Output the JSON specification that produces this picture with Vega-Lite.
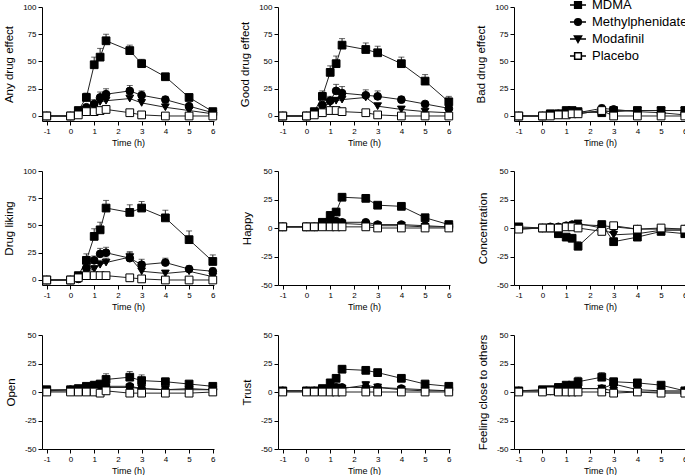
{
"$schema":"https://vega.github.io/schema/vega-lite/v6.json",
"padding":{"left":3,"top":-4,"right":0,"bottom":0},
"bounds":"flush",
"columns":3,
"spacing":{"row":50,"column":64},
"resolve":{"scale":{"shape":"independent","fill":"independent"}},
"datasets":{"d":[
{"p":"any","d":"MDMA","t":-1,"v":0},{"p":"any","d":"MDMA","t":0,"v":0},{"p":"any","d":"MDMA","t":0.33,"v":5},{"p":"any","d":"MDMA","t":0.67,"v":17,"h":21},{"p":"any","d":"MDMA","t":1,"v":47,"h":54},{"p":"any","d":"MDMA","t":1.25,"v":54,"h":62},{"p":"any","d":"MDMA","t":1.5,"v":69,"h":75},{"p":"any","d":"MDMA","t":2.5,"v":60,"h":65},{"p":"any","d":"MDMA","t":3,"v":48,"h":52},{"p":"any","d":"MDMA","t":4,"v":36,"h":39},{"p":"any","d":"MDMA","t":5,"v":17,"h":19},{"p":"any","d":"MDMA","t":6,"v":4,"h":5},
{"p":"any","d":"Methylphenidate","t":-1,"v":0},{"p":"any","d":"Methylphenidate","t":0,"v":0},{"p":"any","d":"Methylphenidate","t":0.33,"v":3},{"p":"any","d":"Methylphenidate","t":0.67,"v":8,"h":10},{"p":"any","d":"Methylphenidate","t":1,"v":11,"h":15},{"p":"any","d":"Methylphenidate","t":1.25,"v":17,"h":22},{"p":"any","d":"Methylphenidate","t":1.5,"v":20,"h":25},{"p":"any","d":"Methylphenidate","t":2.5,"v":23,"h":28},{"p":"any","d":"Methylphenidate","t":3,"v":19,"h":23},{"p":"any","d":"Methylphenidate","t":4,"v":15,"h":18},{"p":"any","d":"Methylphenidate","t":5,"v":9,"h":11},{"p":"any","d":"Methylphenidate","t":6,"v":3},
{"p":"any","d":"Modafinil","t":-1,"v":0},{"p":"any","d":"Modafinil","t":0,"v":0},{"p":"any","d":"Modafinil","t":0.33,"v":2},{"p":"any","d":"Modafinil","t":0.67,"v":6},{"p":"any","d":"Modafinil","t":1,"v":10,"h":13},{"p":"any","d":"Modafinil","t":1.25,"v":13,"h":17},{"p":"any","d":"Modafinil","t":1.5,"v":14,"h":18},{"p":"any","d":"Modafinil","t":2.5,"v":16,"h":20},{"p":"any","d":"Modafinil","t":3,"v":12,"h":15},{"p":"any","d":"Modafinil","t":4,"v":8,"h":10},{"p":"any","d":"Modafinil","t":5,"v":5},{"p":"any","d":"Modafinil","t":6,"v":2},
{"p":"any","d":"Placebo","t":-1,"v":0},{"p":"any","d":"Placebo","t":0,"v":0},{"p":"any","d":"Placebo","t":0.33,"v":1},{"p":"any","d":"Placebo","t":0.67,"v":4},{"p":"any","d":"Placebo","t":1,"v":4},{"p":"any","d":"Placebo","t":1.25,"v":5},{"p":"any","d":"Placebo","t":1.5,"v":6},{"p":"any","d":"Placebo","t":2.5,"v":3},{"p":"any","d":"Placebo","t":3,"v":1},{"p":"any","d":"Placebo","t":4,"v":0},{"p":"any","d":"Placebo","t":5,"v":0},{"p":"any","d":"Placebo","t":6,"v":0},

{"p":"good","d":"MDMA","t":-1,"v":0},{"p":"good","d":"MDMA","t":0,"v":0},{"p":"good","d":"MDMA","t":0.33,"v":4},{"p":"good","d":"MDMA","t":0.67,"v":18,"h":23},{"p":"good","d":"MDMA","t":1,"v":40,"h":46},{"p":"good","d":"MDMA","t":1.25,"v":48,"h":55},{"p":"good","d":"MDMA","t":1.5,"v":65,"h":71},{"p":"good","d":"MDMA","t":2.5,"v":61,"h":67},{"p":"good","d":"MDMA","t":3,"v":58,"h":64},{"p":"good","d":"MDMA","t":4,"v":48,"h":54},{"p":"good","d":"MDMA","t":5,"v":32,"h":38},{"p":"good","d":"MDMA","t":6,"v":13,"h":18},
{"p":"good","d":"Methylphenidate","t":-1,"v":0},{"p":"good","d":"Methylphenidate","t":0,"v":0},{"p":"good","d":"Methylphenidate","t":0.33,"v":3},{"p":"good","d":"Methylphenidate","t":0.67,"v":10,"h":13},{"p":"good","d":"Methylphenidate","t":1,"v":14,"h":18},{"p":"good","d":"Methylphenidate","t":1.25,"v":23,"h":29},{"p":"good","d":"Methylphenidate","t":1.5,"v":21,"h":27},{"p":"good","d":"Methylphenidate","t":2.5,"v":19,"h":24},{"p":"good","d":"Methylphenidate","t":3,"v":18,"h":23},{"p":"good","d":"Methylphenidate","t":4,"v":15,"h":18},{"p":"good","d":"Methylphenidate","t":5,"v":11,"h":13},{"p":"good","d":"Methylphenidate","t":6,"v":7,"h":9},
{"p":"good","d":"Modafinil","t":-1,"v":0},{"p":"good","d":"Modafinil","t":0,"v":0},{"p":"good","d":"Modafinil","t":0.33,"v":2},{"p":"good","d":"Modafinil","t":0.67,"v":8},{"p":"good","d":"Modafinil","t":1,"v":12,"h":15},{"p":"good","d":"Modafinil","t":1.25,"v":14,"h":17},{"p":"good","d":"Modafinil","t":1.5,"v":15,"h":18},{"p":"good","d":"Modafinil","t":2.5,"v":17,"h":21},{"p":"good","d":"Modafinil","t":3,"v":9,"h":11},{"p":"good","d":"Modafinil","t":4,"v":6},{"p":"good","d":"Modafinil","t":5,"v":4},{"p":"good","d":"Modafinil","t":6,"v":3},
{"p":"good","d":"Placebo","t":-1,"v":0},{"p":"good","d":"Placebo","t":0,"v":0},{"p":"good","d":"Placebo","t":0.33,"v":1},{"p":"good","d":"Placebo","t":0.67,"v":3},{"p":"good","d":"Placebo","t":1,"v":5},{"p":"good","d":"Placebo","t":1.25,"v":5},{"p":"good","d":"Placebo","t":1.5,"v":4},{"p":"good","d":"Placebo","t":2.5,"v":3},{"p":"good","d":"Placebo","t":3,"v":1},{"p":"good","d":"Placebo","t":4,"v":0},{"p":"good","d":"Placebo","t":5,"v":0},{"p":"good","d":"Placebo","t":6,"v":0},

{"p":"bad","d":"MDMA","t":-1,"v":0},{"p":"bad","d":"MDMA","t":0,"v":0},{"p":"bad","d":"MDMA","t":0.33,"v":2},{"p":"bad","d":"MDMA","t":0.67,"v":2},{"p":"bad","d":"MDMA","t":1,"v":5,"h":7},{"p":"bad","d":"MDMA","t":1.25,"v":5,"h":7},{"p":"bad","d":"MDMA","t":1.5,"v":4},{"p":"bad","d":"MDMA","t":2.5,"v":3},{"p":"bad","d":"MDMA","t":3,"v":5,"h":7},{"p":"bad","d":"MDMA","t":4,"v":5},{"p":"bad","d":"MDMA","t":5,"v":5},{"p":"bad","d":"MDMA","t":6,"v":5},
{"p":"bad","d":"Methylphenidate","t":-1,"v":0},{"p":"bad","d":"Methylphenidate","t":0,"v":0},{"p":"bad","d":"Methylphenidate","t":0.33,"v":1},{"p":"bad","d":"Methylphenidate","t":0.67,"v":2},{"p":"bad","d":"Methylphenidate","t":1,"v":4},{"p":"bad","d":"Methylphenidate","t":1.25,"v":4},{"p":"bad","d":"Methylphenidate","t":1.5,"v":3},{"p":"bad","d":"Methylphenidate","t":2.5,"v":7,"h":10},{"p":"bad","d":"Methylphenidate","t":3,"v":6},{"p":"bad","d":"Methylphenidate","t":4,"v":4},{"p":"bad","d":"Methylphenidate","t":5,"v":3},{"p":"bad","d":"Methylphenidate","t":6,"v":1},
{"p":"bad","d":"Modafinil","t":-1,"v":0},{"p":"bad","d":"Modafinil","t":0,"v":0},{"p":"bad","d":"Modafinil","t":0.33,"v":2},{"p":"bad","d":"Modafinil","t":0.67,"v":2},{"p":"bad","d":"Modafinil","t":1,"v":3},{"p":"bad","d":"Modafinil","t":1.25,"v":3},{"p":"bad","d":"Modafinil","t":1.5,"v":2},{"p":"bad","d":"Modafinil","t":2.5,"v":5},{"p":"bad","d":"Modafinil","t":3,"v":4},{"p":"bad","d":"Modafinil","t":4,"v":5},{"p":"bad","d":"Modafinil","t":5,"v":5},{"p":"bad","d":"Modafinil","t":6,"v":5},
{"p":"bad","d":"Placebo","t":-1,"v":0},{"p":"bad","d":"Placebo","t":0,"v":0},{"p":"bad","d":"Placebo","t":0.33,"v":0},{"p":"bad","d":"Placebo","t":0.67,"v":1},{"p":"bad","d":"Placebo","t":1,"v":1},{"p":"bad","d":"Placebo","t":1.25,"v":2},{"p":"bad","d":"Placebo","t":1.5,"v":2},{"p":"bad","d":"Placebo","t":2.5,"v":5},{"p":"bad","d":"Placebo","t":3,"v":0},{"p":"bad","d":"Placebo","t":4,"v":0},{"p":"bad","d":"Placebo","t":5,"v":0},{"p":"bad","d":"Placebo","t":6,"v":0},

{"p":"lik","d":"MDMA","t":-1,"v":0},{"p":"lik","d":"MDMA","t":0,"v":0},{"p":"lik","d":"MDMA","t":0.33,"v":4},{"p":"lik","d":"MDMA","t":0.67,"v":18,"h":24},{"p":"lik","d":"MDMA","t":1,"v":40,"h":47},{"p":"lik","d":"MDMA","t":1.25,"v":46,"h":53},{"p":"lik","d":"MDMA","t":1.5,"v":66,"h":73},{"p":"lik","d":"MDMA","t":2.5,"v":62,"h":69},{"p":"lik","d":"MDMA","t":3,"v":66,"h":72},{"p":"lik","d":"MDMA","t":4,"v":57,"h":64},{"p":"lik","d":"MDMA","t":5,"v":37,"h":45},{"p":"lik","d":"MDMA","t":6,"v":17,"h":23},
{"p":"lik","d":"Methylphenidate","t":-1,"v":0},{"p":"lik","d":"Methylphenidate","t":0,"v":0},{"p":"lik","d":"Methylphenidate","t":0.33,"v":1},{"p":"lik","d":"Methylphenidate","t":0.67,"v":11,"h":15},{"p":"lik","d":"Methylphenidate","t":1,"v":18,"h":22},{"p":"lik","d":"Methylphenidate","t":1.25,"v":24,"h":29},{"p":"lik","d":"Methylphenidate","t":1.5,"v":25,"h":30},{"p":"lik","d":"Methylphenidate","t":2.5,"v":20,"h":26},{"p":"lik","d":"Methylphenidate","t":3,"v":14,"h":19},{"p":"lik","d":"Methylphenidate","t":4,"v":16,"h":20},{"p":"lik","d":"Methylphenidate","t":5,"v":10,"h":13},{"p":"lik","d":"Methylphenidate","t":6,"v":8,"h":11},
{"p":"lik","d":"Modafinil","t":-1,"v":0},{"p":"lik","d":"Modafinil","t":0,"v":0},{"p":"lik","d":"Modafinil","t":0.33,"v":1},{"p":"lik","d":"Modafinil","t":0.67,"v":8},{"p":"lik","d":"Modafinil","t":1,"v":10,"h":13},{"p":"lik","d":"Modafinil","t":1.25,"v":14,"h":18},{"p":"lik","d":"Modafinil","t":1.5,"v":16,"h":20},{"p":"lik","d":"Modafinil","t":2.5,"v":21,"h":25},{"p":"lik","d":"Modafinil","t":3,"v":8,"h":11},{"p":"lik","d":"Modafinil","t":4,"v":6,"h":8},{"p":"lik","d":"Modafinil","t":5,"v":8,"h":10},{"p":"lik","d":"Modafinil","t":6,"v":3},
{"p":"lik","d":"Placebo","t":-1,"v":0},{"p":"lik","d":"Placebo","t":0,"v":0},{"p":"lik","d":"Placebo","t":0.33,"v":2},{"p":"lik","d":"Placebo","t":0.67,"v":4},{"p":"lik","d":"Placebo","t":1,"v":4},{"p":"lik","d":"Placebo","t":1.25,"v":4},{"p":"lik","d":"Placebo","t":1.5,"v":4},{"p":"lik","d":"Placebo","t":2.5,"v":2},{"p":"lik","d":"Placebo","t":3,"v":1},{"p":"lik","d":"Placebo","t":4,"v":0},{"p":"lik","d":"Placebo","t":5,"v":0},{"p":"lik","d":"Placebo","t":6,"v":0},

{"p":"hap","d":"MDMA","t":-1,"v":1},{"p":"hap","d":"MDMA","t":0,"v":1},{"p":"hap","d":"MDMA","t":0.33,"v":1},{"p":"hap","d":"MDMA","t":0.67,"v":5,"h":7},{"p":"hap","d":"MDMA","t":1,"v":11,"h":14},{"p":"hap","d":"MDMA","t":1.25,"v":14,"h":17},{"p":"hap","d":"MDMA","t":1.5,"v":27,"h":30},{"p":"hap","d":"MDMA","t":2.5,"v":26,"h":29},{"p":"hap","d":"MDMA","t":3,"v":20,"h":22},{"p":"hap","d":"MDMA","t":4,"v":19,"h":21},{"p":"hap","d":"MDMA","t":5,"v":9,"h":11},{"p":"hap","d":"MDMA","t":6,"v":3,"h":5},
{"p":"hap","d":"Methylphenidate","t":-1,"v":1},{"p":"hap","d":"Methylphenidate","t":0,"v":1},{"p":"hap","d":"Methylphenidate","t":0.33,"v":1},{"p":"hap","d":"Methylphenidate","t":0.67,"v":2},{"p":"hap","d":"Methylphenidate","t":1,"v":7},{"p":"hap","d":"Methylphenidate","t":1.25,"v":6},{"p":"hap","d":"Methylphenidate","t":1.5,"v":5},{"p":"hap","d":"Methylphenidate","t":2.5,"v":5},{"p":"hap","d":"Methylphenidate","t":3,"v":3},{"p":"hap","d":"Methylphenidate","t":4,"v":3},{"p":"hap","d":"Methylphenidate","t":5,"v":2},{"p":"hap","d":"Methylphenidate","t":6,"v":1},
{"p":"hap","d":"Modafinil","t":-1,"v":1},{"p":"hap","d":"Modafinil","t":0,"v":1},{"p":"hap","d":"Modafinil","t":0.33,"v":1},{"p":"hap","d":"Modafinil","t":0.67,"v":2},{"p":"hap","d":"Modafinil","t":1,"v":5},{"p":"hap","d":"Modafinil","t":1.25,"v":5},{"p":"hap","d":"Modafinil","t":1.5,"v":4},{"p":"hap","d":"Modafinil","t":2.5,"v":3},{"p":"hap","d":"Modafinil","t":3,"v":2},{"p":"hap","d":"Modafinil","t":4,"v":2},{"p":"hap","d":"Modafinil","t":5,"v":1},{"p":"hap","d":"Modafinil","t":6,"v":1},
{"p":"hap","d":"Placebo","t":-1,"v":1},{"p":"hap","d":"Placebo","t":0,"v":1},{"p":"hap","d":"Placebo","t":0.33,"v":1},{"p":"hap","d":"Placebo","t":0.67,"v":1},{"p":"hap","d":"Placebo","t":1,"v":1},{"p":"hap","d":"Placebo","t":1.25,"v":1},{"p":"hap","d":"Placebo","t":1.5,"v":1},{"p":"hap","d":"Placebo","t":2.5,"v":1},{"p":"hap","d":"Placebo","t":3,"v":0},{"p":"hap","d":"Placebo","t":4,"v":0},{"p":"hap","d":"Placebo","t":5,"v":0},{"p":"hap","d":"Placebo","t":6,"v":0},

{"p":"con","d":"MDMA","t":-1,"v":1},{"p":"con","d":"MDMA","t":0,"v":0},{"p":"con","d":"MDMA","t":0.33,"v":0},{"p":"con","d":"MDMA","t":0.67,"v":-5,"h":-3},{"p":"con","d":"MDMA","t":1,"v":-8,"h":-6},{"p":"con","d":"MDMA","t":1.25,"v":-9,"h":-7},{"p":"con","d":"MDMA","t":1.5,"v":-16,"h":-12},{"p":"con","d":"MDMA","t":2.5,"v":3,"h":5},{"p":"con","d":"MDMA","t":3,"v":-12,"h":-9},{"p":"con","d":"MDMA","t":4,"v":-8,"h":-6},{"p":"con","d":"MDMA","t":5,"v":-3,"h":-1},{"p":"con","d":"MDMA","t":6,"v":-5,"h":-3},
{"p":"con","d":"Methylphenidate","t":-1,"v":0},{"p":"con","d":"Methylphenidate","t":0,"v":0},{"p":"con","d":"Methylphenidate","t":0.33,"v":1},{"p":"con","d":"Methylphenidate","t":0.67,"v":1},{"p":"con","d":"Methylphenidate","t":1,"v":2},{"p":"con","d":"Methylphenidate","t":1.25,"v":3},{"p":"con","d":"Methylphenidate","t":1.5,"v":3,"h":6},{"p":"con","d":"Methylphenidate","t":2.5,"v":2},{"p":"con","d":"Methylphenidate","t":3,"v":1},{"p":"con","d":"Methylphenidate","t":4,"v":-1},{"p":"con","d":"Methylphenidate","t":5,"v":-1},{"p":"con","d":"Methylphenidate","t":6,"v":-1},
{"p":"con","d":"Modafinil","t":-1,"v":-1},{"p":"con","d":"Modafinil","t":0,"v":0},{"p":"con","d":"Modafinil","t":0.33,"v":0},{"p":"con","d":"Modafinil","t":0.67,"v":0},{"p":"con","d":"Modafinil","t":1,"v":1},{"p":"con","d":"Modafinil","t":1.25,"v":2},{"p":"con","d":"Modafinil","t":1.5,"v":4},{"p":"con","d":"Modafinil","t":2.5,"v":0},{"p":"con","d":"Modafinil","t":3,"v":-6,"h":-3},{"p":"con","d":"Modafinil","t":4,"v":-5},{"p":"con","d":"Modafinil","t":5,"v":-2},{"p":"con","d":"Modafinil","t":6,"v":-2},
{"p":"con","d":"Placebo","t":-1,"v":-1},{"p":"con","d":"Placebo","t":0,"v":0},{"p":"con","d":"Placebo","t":0.33,"v":0},{"p":"con","d":"Placebo","t":0.67,"v":0},{"p":"con","d":"Placebo","t":1,"v":1},{"p":"con","d":"Placebo","t":1.25,"v":1},{"p":"con","d":"Placebo","t":1.5,"v":0},{"p":"con","d":"Placebo","t":2.5,"v":-3},{"p":"con","d":"Placebo","t":3,"v":2},{"p":"con","d":"Placebo","t":4,"v":-1},{"p":"con","d":"Placebo","t":5,"v":0},{"p":"con","d":"Placebo","t":6,"v":-1},

{"p":"ope","d":"MDMA","t":-1,"v":2},{"p":"ope","d":"MDMA","t":0,"v":2},{"p":"ope","d":"MDMA","t":0.33,"v":3},{"p":"ope","d":"MDMA","t":0.67,"v":5},{"p":"ope","d":"MDMA","t":1,"v":6,"h":9},{"p":"ope","d":"MDMA","t":1.25,"v":7,"h":9},{"p":"ope","d":"MDMA","t":1.5,"v":11,"h":16},{"p":"ope","d":"MDMA","t":2.5,"v":13,"h":18},{"p":"ope","d":"MDMA","t":3,"v":10,"h":15},{"p":"ope","d":"MDMA","t":4,"v":9,"h":12},{"p":"ope","d":"MDMA","t":5,"v":7,"h":9},{"p":"ope","d":"MDMA","t":6,"v":5},
{"p":"ope","d":"Methylphenidate","t":-1,"v":1},{"p":"ope","d":"Methylphenidate","t":0,"v":2},{"p":"ope","d":"Methylphenidate","t":0.33,"v":2},{"p":"ope","d":"Methylphenidate","t":0.67,"v":3},{"p":"ope","d":"Methylphenidate","t":1,"v":5},{"p":"ope","d":"Methylphenidate","t":1.25,"v":6},{"p":"ope","d":"Methylphenidate","t":1.5,"v":5},{"p":"ope","d":"Methylphenidate","t":2.5,"v":5},{"p":"ope","d":"Methylphenidate","t":3,"v":3},{"p":"ope","d":"Methylphenidate","t":4,"v":2},{"p":"ope","d":"Methylphenidate","t":5,"v":3},{"p":"ope","d":"Methylphenidate","t":6,"v":2},
{"p":"ope","d":"Modafinil","t":-1,"v":1},{"p":"ope","d":"Modafinil","t":0,"v":1},{"p":"ope","d":"Modafinil","t":0.33,"v":2},{"p":"ope","d":"Modafinil","t":0.67,"v":3},{"p":"ope","d":"Modafinil","t":1,"v":4},{"p":"ope","d":"Modafinil","t":1.25,"v":5},{"p":"ope","d":"Modafinil","t":1.5,"v":4},{"p":"ope","d":"Modafinil","t":2.5,"v":4},{"p":"ope","d":"Modafinil","t":3,"v":3},{"p":"ope","d":"Modafinil","t":4,"v":2},{"p":"ope","d":"Modafinil","t":5,"v":2},{"p":"ope","d":"Modafinil","t":6,"v":2},
{"p":"ope","d":"Placebo","t":-1,"v":0},{"p":"ope","d":"Placebo","t":0,"v":0},{"p":"ope","d":"Placebo","t":0.33,"v":0},{"p":"ope","d":"Placebo","t":0.67,"v":0},{"p":"ope","d":"Placebo","t":1,"v":0},{"p":"ope","d":"Placebo","t":1.25,"v":-1},{"p":"ope","d":"Placebo","t":1.5,"v":1},{"p":"ope","d":"Placebo","t":2.5,"v":-1},{"p":"ope","d":"Placebo","t":3,"v":-1},{"p":"ope","d":"Placebo","t":4,"v":-1},{"p":"ope","d":"Placebo","t":5,"v":-1},{"p":"ope","d":"Placebo","t":6,"v":0},

{"p":"tru","d":"MDMA","t":-1,"v":1},{"p":"tru","d":"MDMA","t":0,"v":1},{"p":"tru","d":"MDMA","t":0.33,"v":1},{"p":"tru","d":"MDMA","t":0.67,"v":3},{"p":"tru","d":"MDMA","t":1,"v":8,"h":10},{"p":"tru","d":"MDMA","t":1.25,"v":12,"h":14},{"p":"tru","d":"MDMA","t":1.5,"v":20,"h":23},{"p":"tru","d":"MDMA","t":2.5,"v":19,"h":22},{"p":"tru","d":"MDMA","t":3,"v":17,"h":19},{"p":"tru","d":"MDMA","t":4,"v":12,"h":14},{"p":"tru","d":"MDMA","t":5,"v":7,"h":9},{"p":"tru","d":"MDMA","t":6,"v":5},
{"p":"tru","d":"Methylphenidate","t":-1,"v":1},{"p":"tru","d":"Methylphenidate","t":0,"v":1},{"p":"tru","d":"Methylphenidate","t":0.33,"v":1},{"p":"tru","d":"Methylphenidate","t":0.67,"v":2},{"p":"tru","d":"Methylphenidate","t":1,"v":4},{"p":"tru","d":"Methylphenidate","t":1.25,"v":4},{"p":"tru","d":"Methylphenidate","t":1.5,"v":4},{"p":"tru","d":"Methylphenidate","t":2.5,"v":4},{"p":"tru","d":"Methylphenidate","t":3,"v":4},{"p":"tru","d":"Methylphenidate","t":4,"v":3},{"p":"tru","d":"Methylphenidate","t":5,"v":2},{"p":"tru","d":"Methylphenidate","t":6,"v":1},
{"p":"tru","d":"Modafinil","t":-1,"v":1},{"p":"tru","d":"Modafinil","t":0,"v":1},{"p":"tru","d":"Modafinil","t":0.33,"v":1},{"p":"tru","d":"Modafinil","t":0.67,"v":2},{"p":"tru","d":"Modafinil","t":1,"v":3},{"p":"tru","d":"Modafinil","t":1.25,"v":4},{"p":"tru","d":"Modafinil","t":1.5,"v":3},{"p":"tru","d":"Modafinil","t":2.5,"v":6,"h":9},{"p":"tru","d":"Modafinil","t":3,"v":4},{"p":"tru","d":"Modafinil","t":4,"v":2},{"p":"tru","d":"Modafinil","t":5,"v":1},{"p":"tru","d":"Modafinil","t":6,"v":1},
{"p":"tru","d":"Placebo","t":-1,"v":0},{"p":"tru","d":"Placebo","t":0,"v":0},{"p":"tru","d":"Placebo","t":0.33,"v":0},{"p":"tru","d":"Placebo","t":0.67,"v":0},{"p":"tru","d":"Placebo","t":1,"v":0},{"p":"tru","d":"Placebo","t":1.25,"v":0},{"p":"tru","d":"Placebo","t":1.5,"v":0},{"p":"tru","d":"Placebo","t":2.5,"v":0},{"p":"tru","d":"Placebo","t":3,"v":0},{"p":"tru","d":"Placebo","t":4,"v":0},{"p":"tru","d":"Placebo","t":5,"v":0},{"p":"tru","d":"Placebo","t":6,"v":0},

{"p":"clo","d":"MDMA","t":-1,"v":1},{"p":"clo","d":"MDMA","t":0,"v":2},{"p":"clo","d":"MDMA","t":0.33,"v":2},{"p":"clo","d":"MDMA","t":0.67,"v":4},{"p":"clo","d":"MDMA","t":1,"v":6,"h":8},{"p":"clo","d":"MDMA","t":1.25,"v":6,"h":8},{"p":"clo","d":"MDMA","t":1.5,"v":9,"h":13},{"p":"clo","d":"MDMA","t":2.5,"v":13,"h":17},{"p":"clo","d":"MDMA","t":3,"v":9,"h":12},{"p":"clo","d":"MDMA","t":4,"v":8,"h":10},{"p":"clo","d":"MDMA","t":5,"v":6,"h":8},{"p":"clo","d":"MDMA","t":6,"v":1},
{"p":"clo","d":"Methylphenidate","t":-1,"v":1},{"p":"clo","d":"Methylphenidate","t":0,"v":1},{"p":"clo","d":"Methylphenidate","t":0.33,"v":1},{"p":"clo","d":"Methylphenidate","t":0.67,"v":2},{"p":"clo","d":"Methylphenidate","t":1,"v":3},{"p":"clo","d":"Methylphenidate","t":1.25,"v":4},{"p":"clo","d":"Methylphenidate","t":1.5,"v":3},{"p":"clo","d":"Methylphenidate","t":2.5,"v":3},{"p":"clo","d":"Methylphenidate","t":3,"v":7},{"p":"clo","d":"Methylphenidate","t":4,"v":2},{"p":"clo","d":"Methylphenidate","t":5,"v":1},{"p":"clo","d":"Methylphenidate","t":6,"v":1},
{"p":"clo","d":"Modafinil","t":-1,"v":1},{"p":"clo","d":"Modafinil","t":0,"v":1},{"p":"clo","d":"Modafinil","t":0.33,"v":1},{"p":"clo","d":"Modafinil","t":0.67,"v":2},{"p":"clo","d":"Modafinil","t":1,"v":2},{"p":"clo","d":"Modafinil","t":1.25,"v":3},{"p":"clo","d":"Modafinil","t":1.5,"v":3},{"p":"clo","d":"Modafinil","t":2.5,"v":3},{"p":"clo","d":"Modafinil","t":3,"v":1},{"p":"clo","d":"Modafinil","t":4,"v":0},{"p":"clo","d":"Modafinil","t":5,"v":0},{"p":"clo","d":"Modafinil","t":6,"v":0},
{"p":"clo","d":"Placebo","t":-1,"v":0},{"p":"clo","d":"Placebo","t":0,"v":0},{"p":"clo","d":"Placebo","t":0.33,"v":1},{"p":"clo","d":"Placebo","t":0.67,"v":0},{"p":"clo","d":"Placebo","t":1,"v":0},{"p":"clo","d":"Placebo","t":1.25,"v":0},{"p":"clo","d":"Placebo","t":1.5,"v":0},{"p":"clo","d":"Placebo","t":2.5,"v":0},{"p":"clo","d":"Placebo","t":3,"v":-1},{"p":"clo","d":"Placebo","t":4,"v":0},{"p":"clo","d":"Placebo","t":5,"v":-1},{"p":"clo","d":"Placebo","t":6,"v":-1}
]},
"concat":[
{"width":172,"height":114,"data":{"name":"d"},"transform":[{"filter":"datum.p=='any'"}],
 "resolve":{"scale":{"shape":"independent","fill":"independent"}},
 "encoding":{"x":{"field":"t","type":"quantitative","scale":{"domain":[-1.2,6.05],"nice":false,"zero":false},"axis":{"values":[-1,0,1,2,3,4,5,6],"labelExpr":"''+datum.value","title":"Time (h)"}},
  "y":{"field":"v","type":"quantitative","scale":{"domain":[-4.6,100],"nice":false},"axis":{"values":[0,25,50,75,100]},"title":"Any drug effect"}},
 "layer":[
  {"transform":[{"filter":"isValid(datum.h)"}],"mark":{"type":"rule","stroke":"#222","strokeWidth":1},"encoding":{"y2":{"field":"h"}}},
  {"transform":[{"filter":"isValid(datum.h)"}],"mark":{"type":"tick","orient":"horizontal","size":6,"thickness":1,"color":"#222"},"encoding":{"y":{"field":"h","type":"quantitative","title":"Any drug effect"}}},
  {"mark":{"type":"line","stroke":"#222","strokeWidth":1},"encoding":{"detail":{"field":"d"}}},
  {"mark":{"type":"point","filled":true,"stroke":"black","strokeWidth":1,"opacity":1},"encoding":{
   "shape":{"field":"d","type":"nominal","scale":{"domain":["MDMA","Methylphenidate","Modafinil","Placebo"],"range":["square","circle","triangle-down","square"]},"legend":null},
   "fill":{"field":"d","type":"nominal","scale":{"domain":["MDMA","Methylphenidate","Modafinil","Placebo"],"range":["black","black","black","white"]},"legend":null},
   "size":{"value":60}}},
  {"mark":{"type":"point","filled":true,"stroke":"black","strokeWidth":1,"opacity":0},"encoding":{
   "shape":{"field":"d","type":"nominal","scale":{"domain":["MDMA","Methylphenidate","Modafinil","Placebo"],"range":["M-1,0H1M-0.42,-0.42H0.42V0.42H-0.42Z","M-1,0H1M-0.42,0A0.42,0.42 0 1,0 0.42,0A0.42,0.42 0 1,0 -0.42,0Z","M-1,0H1M-0.45,-0.38H0.45L0,0.42Z","M-1,0H-0.42M0.42,0H1M-0.42,-0.42H0.42V0.42H-0.42Z"]},
     "legend":{"orient":"none","legendX":527,"legendY":-11,"title":null,"labelFont":"Liberation Sans","labelFontSize":13,"labelColor":"black","symbolSize":256,"labelOffset":5,"rowPadding":1,"symbolOpacity":1,
      "encode":{"symbols":{"stroke":{"value":"black"},"strokeWidth":{"value":1}}}}},
   "fill":{"field":"d","type":"nominal","scale":{"domain":["MDMA","Methylphenidate","Modafinil","Placebo"],"range":["black","black","black","white"]},
     "legend":{"orient":"none","legendX":527,"legendY":-11,"title":null,"labelFont":"Liberation Sans","labelFontSize":13,"labelColor":"black","symbolSize":256,"labelOffset":5,"rowPadding":1,"symbolOpacity":1,
      "encode":{"symbols":{"stroke":{"value":"black"},"strokeWidth":{"value":1}}}}}}}
 ]},
{"width":172,"height":114,"data":{"name":"d"},"transform":[{"filter":"datum.p=='good'"}],
 "encoding":{"x":{"field":"t","type":"quantitative","scale":{"domain":[-1.2,6.05],"nice":false,"zero":false},"axis":{"values":[-1,0,1,2,3,4,5,6],"labelExpr":"''+datum.value","title":"Time (h)"}},
  "y":{"field":"v","type":"quantitative","scale":{"domain":[-4.6,100],"nice":false},"axis":{"values":[0,25,50,75,100]},"title":"Good drug effect"}},
 "layer":[
  {"transform":[{"filter":"isValid(datum.h)"}],"mark":{"type":"rule","stroke":"#222","strokeWidth":1},"encoding":{"y2":{"field":"h"}}},
  {"transform":[{"filter":"isValid(datum.h)"}],"mark":{"type":"tick","orient":"horizontal","size":6,"thickness":1,"color":"#222"},"encoding":{"y":{"field":"h","type":"quantitative","title":"Good drug effect"}}},
  {"mark":{"type":"line","stroke":"#222","strokeWidth":1},"encoding":{"detail":{"field":"d"}}},
  {"mark":{"type":"point","filled":true,"stroke":"black","strokeWidth":1,"opacity":1},"encoding":{"shape":{"field":"d","type":"nominal","scale":{"domain":["MDMA","Methylphenidate","Modafinil","Placebo"],"range":["square","circle","triangle-down","square"]},"legend":null},"fill":{"field":"d","type":"nominal","scale":{"domain":["MDMA","Methylphenidate","Modafinil","Placebo"],"range":["black","black","black","white"]},"legend":null},"size":{"value":60}}}
 ]},
{"width":172,"height":114,"data":{"name":"d"},"transform":[{"filter":"datum.p=='bad'"}],
 "encoding":{"x":{"field":"t","type":"quantitative","scale":{"domain":[-1.2,6.05],"nice":false,"zero":false},"axis":{"values":[-1,0,1,2,3,4,5,6],"labelExpr":"''+datum.value","title":"Time (h)"}},
  "y":{"field":"v","type":"quantitative","scale":{"domain":[-4.6,100],"nice":false},"axis":{"values":[0,25,50,75,100]},"title":"Bad drug effect"}},
 "layer":[
  {"transform":[{"filter":"isValid(datum.h)"}],"mark":{"type":"rule","stroke":"#222","strokeWidth":1},"encoding":{"y2":{"field":"h"}}},
  {"transform":[{"filter":"isValid(datum.h)"}],"mark":{"type":"tick","orient":"horizontal","size":6,"thickness":1,"color":"#222"},"encoding":{"y":{"field":"h","type":"quantitative","title":"Bad drug effect"}}},
  {"mark":{"type":"line","stroke":"#222","strokeWidth":1},"encoding":{"detail":{"field":"d"}}},
  {"mark":{"type":"point","filled":true,"stroke":"black","strokeWidth":1,"opacity":1},"encoding":{"shape":{"field":"d","type":"nominal","scale":{"domain":["MDMA","Methylphenidate","Modafinil","Placebo"],"range":["square","circle","triangle-down","square"]},"legend":null},"fill":{"field":"d","type":"nominal","scale":{"domain":["MDMA","Methylphenidate","Modafinil","Placebo"],"range":["black","black","black","white"]},"legend":null},"size":{"value":60}}}
 ]},
{"width":172,"height":114,"data":{"name":"d"},"transform":[{"filter":"datum.p=='lik'"}],
 "encoding":{"x":{"field":"t","type":"quantitative","scale":{"domain":[-1.2,6.05],"nice":false,"zero":false},"axis":{"values":[-1,0,1,2,3,4,5,6],"labelExpr":"''+datum.value","title":"Time (h)"}},
  "y":{"field":"v","type":"quantitative","scale":{"domain":[-4.6,100],"nice":false},"axis":{"values":[0,25,50,75,100]},"title":"Drug liking"}},
 "layer":[
  {"transform":[{"filter":"isValid(datum.h)"}],"mark":{"type":"rule","stroke":"#222","strokeWidth":1},"encoding":{"y2":{"field":"h"}}},
  {"transform":[{"filter":"isValid(datum.h)"}],"mark":{"type":"tick","orient":"horizontal","size":6,"thickness":1,"color":"#222"},"encoding":{"y":{"field":"h","type":"quantitative","title":"Drug liking"}}},
  {"mark":{"type":"line","stroke":"#222","strokeWidth":1},"encoding":{"detail":{"field":"d"}}},
  {"mark":{"type":"point","filled":true,"stroke":"black","strokeWidth":1,"opacity":1},"encoding":{"shape":{"field":"d","type":"nominal","scale":{"domain":["MDMA","Methylphenidate","Modafinil","Placebo"],"range":["square","circle","triangle-down","square"]},"legend":null},"fill":{"field":"d","type":"nominal","scale":{"domain":["MDMA","Methylphenidate","Modafinil","Placebo"],"range":["black","black","black","white"]},"legend":null},"size":{"value":60}}}
 ]},
{"width":172,"height":114,"data":{"name":"d"},"transform":[{"filter":"datum.p=='hap'"}],
 "encoding":{"x":{"field":"t","type":"quantitative","scale":{"domain":[-1.2,6.05],"nice":false,"zero":false},"axis":{"values":[-1,0,1,2,3,4,5,6],"labelExpr":"''+datum.value","title":"Time (h)"}},
  "y":{"field":"v","type":"quantitative","scale":{"domain":[-50,50],"nice":false},"axis":{"values":[-50,-25,0,25,50],"labelExpr":"''+datum.value"},"title":"Happy"}},
 "layer":[
  {"transform":[{"filter":"isValid(datum.h)"}],"mark":{"type":"rule","stroke":"#222","strokeWidth":1},"encoding":{"y2":{"field":"h"}}},
  {"transform":[{"filter":"isValid(datum.h)"}],"mark":{"type":"tick","orient":"horizontal","size":6,"thickness":1,"color":"#222"},"encoding":{"y":{"field":"h","type":"quantitative","title":"Happy"}}},
  {"mark":{"type":"line","stroke":"#222","strokeWidth":1},"encoding":{"detail":{"field":"d"}}},
  {"mark":{"type":"point","filled":true,"stroke":"black","strokeWidth":1,"opacity":1},"encoding":{"shape":{"field":"d","type":"nominal","scale":{"domain":["MDMA","Methylphenidate","Modafinil","Placebo"],"range":["square","circle","triangle-down","square"]},"legend":null},"fill":{"field":"d","type":"nominal","scale":{"domain":["MDMA","Methylphenidate","Modafinil","Placebo"],"range":["black","black","black","white"]},"legend":null},"size":{"value":60}}}
 ]},
{"width":172,"height":114,"data":{"name":"d"},"transform":[{"filter":"datum.p=='con'"}],
 "encoding":{"x":{"field":"t","type":"quantitative","scale":{"domain":[-1.2,6.05],"nice":false,"zero":false},"axis":{"values":[-1,0,1,2,3,4,5,6],"labelExpr":"''+datum.value","title":"Time (h)"}},
  "y":{"field":"v","type":"quantitative","scale":{"domain":[-50,50],"nice":false},"axis":{"values":[-50,-25,0,25,50],"labelExpr":"''+datum.value"},"title":"Concentration"}},
 "layer":[
  {"transform":[{"filter":"isValid(datum.h)"}],"mark":{"type":"rule","stroke":"#222","strokeWidth":1},"encoding":{"y2":{"field":"h"}}},
  {"transform":[{"filter":"isValid(datum.h)"}],"mark":{"type":"tick","orient":"horizontal","size":6,"thickness":1,"color":"#222"},"encoding":{"y":{"field":"h","type":"quantitative","title":"Concentration"}}},
  {"mark":{"type":"line","stroke":"#222","strokeWidth":1},"encoding":{"detail":{"field":"d"}}},
  {"mark":{"type":"point","filled":true,"stroke":"black","strokeWidth":1,"opacity":1},"encoding":{"shape":{"field":"d","type":"nominal","scale":{"domain":["MDMA","Methylphenidate","Modafinil","Placebo"],"range":["square","circle","triangle-down","square"]},"legend":null},"fill":{"field":"d","type":"nominal","scale":{"domain":["MDMA","Methylphenidate","Modafinil","Placebo"],"range":["black","black","black","white"]},"legend":null},"size":{"value":60}}}
 ]},
{"width":172,"height":114,"data":{"name":"d"},"transform":[{"filter":"datum.p=='ope'"}],
 "encoding":{"x":{"field":"t","type":"quantitative","scale":{"domain":[-1.2,6.05],"nice":false,"zero":false},"axis":{"values":[-1,0,1,2,3,4,5,6],"labelExpr":"''+datum.value","title":"Time (h)"}},
  "y":{"field":"v","type":"quantitative","scale":{"domain":[-50,50],"nice":false},"axis":{"values":[-50,-25,0,25,50],"labelExpr":"''+datum.value"},"title":"Open"}},
 "layer":[
  {"transform":[{"filter":"isValid(datum.h)"}],"mark":{"type":"rule","stroke":"#222","strokeWidth":1},"encoding":{"y2":{"field":"h"}}},
  {"transform":[{"filter":"isValid(datum.h)"}],"mark":{"type":"tick","orient":"horizontal","size":6,"thickness":1,"color":"#222"},"encoding":{"y":{"field":"h","type":"quantitative","title":"Open"}}},
  {"mark":{"type":"line","stroke":"#222","strokeWidth":1},"encoding":{"detail":{"field":"d"}}},
  {"mark":{"type":"point","filled":true,"stroke":"black","strokeWidth":1,"opacity":1},"encoding":{"shape":{"field":"d","type":"nominal","scale":{"domain":["MDMA","Methylphenidate","Modafinil","Placebo"],"range":["square","circle","triangle-down","square"]},"legend":null},"fill":{"field":"d","type":"nominal","scale":{"domain":["MDMA","Methylphenidate","Modafinil","Placebo"],"range":["black","black","black","white"]},"legend":null},"size":{"value":60}}}
 ]},
{"width":172,"height":114,"data":{"name":"d"},"transform":[{"filter":"datum.p=='tru'"}],
 "encoding":{"x":{"field":"t","type":"quantitative","scale":{"domain":[-1.2,6.05],"nice":false,"zero":false},"axis":{"values":[-1,0,1,2,3,4,5,6],"labelExpr":"''+datum.value","title":"Time (h)"}},
  "y":{"field":"v","type":"quantitative","scale":{"domain":[-50,50],"nice":false},"axis":{"values":[-50,-25,0,25,50],"labelExpr":"''+datum.value"},"title":"Trust"}},
 "layer":[
  {"transform":[{"filter":"isValid(datum.h)"}],"mark":{"type":"rule","stroke":"#222","strokeWidth":1},"encoding":{"y2":{"field":"h"}}},
  {"transform":[{"filter":"isValid(datum.h)"}],"mark":{"type":"tick","orient":"horizontal","size":6,"thickness":1,"color":"#222"},"encoding":{"y":{"field":"h","type":"quantitative","title":"Trust"}}},
  {"mark":{"type":"line","stroke":"#222","strokeWidth":1},"encoding":{"detail":{"field":"d"}}},
  {"mark":{"type":"point","filled":true,"stroke":"black","strokeWidth":1,"opacity":1},"encoding":{"shape":{"field":"d","type":"nominal","scale":{"domain":["MDMA","Methylphenidate","Modafinil","Placebo"],"range":["square","circle","triangle-down","square"]},"legend":null},"fill":{"field":"d","type":"nominal","scale":{"domain":["MDMA","Methylphenidate","Modafinil","Placebo"],"range":["black","black","black","white"]},"legend":null},"size":{"value":60}}}
 ]},
{"width":172,"height":114,"data":{"name":"d"},"transform":[{"filter":"datum.p=='clo'"}],
 "encoding":{"x":{"field":"t","type":"quantitative","scale":{"domain":[-1.2,6.05],"nice":false,"zero":false},"axis":{"values":[-1,0,1,2,3,4,5,6],"labelExpr":"''+datum.value","title":"Time (h)"}},
  "y":{"field":"v","type":"quantitative","scale":{"domain":[-50,50],"nice":false},"axis":{"values":[-50,-25,0,25,50],"labelExpr":"''+datum.value"},"title":"Feeling close to others"}},
 "layer":[
  {"transform":[{"filter":"isValid(datum.h)"}],"mark":{"type":"rule","stroke":"#222","strokeWidth":1},"encoding":{"y2":{"field":"h"}}},
  {"transform":[{"filter":"isValid(datum.h)"}],"mark":{"type":"tick","orient":"horizontal","size":6,"thickness":1,"color":"#222"},"encoding":{"y":{"field":"h","type":"quantitative","title":"Feeling close to others"}}},
  {"mark":{"type":"line","stroke":"#222","strokeWidth":1},"encoding":{"detail":{"field":"d"}}},
  {"mark":{"type":"point","filled":true,"stroke":"black","strokeWidth":1,"opacity":1},"encoding":{"shape":{"field":"d","type":"nominal","scale":{"domain":["MDMA","Methylphenidate","Modafinil","Placebo"],"range":["square","circle","triangle-down","square"]},"legend":null},"fill":{"field":"d","type":"nominal","scale":{"domain":["MDMA","Methylphenidate","Modafinil","Placebo"],"range":["black","black","black","white"]},"legend":null},"size":{"value":60}}}
 ]}
],
"config":{
 "view":{"stroke":null},
 "font":"Liberation Sans",
 "axis":{"grid":false,"domainColor":"black","tickColor":"black","labelFont":"Liberation Sans","titleFont":"Liberation Sans","labelFontSize":8,"labelColor":"black","titleColor":"black","titleFontWeight":"normal","tickSize":4,"labelPadding":2},
 "axisY":{"titleFontSize":11.5,"titlePadding":8},
 "axisX":{"titleFontSize":9,"titlePadding":3}
}
}
